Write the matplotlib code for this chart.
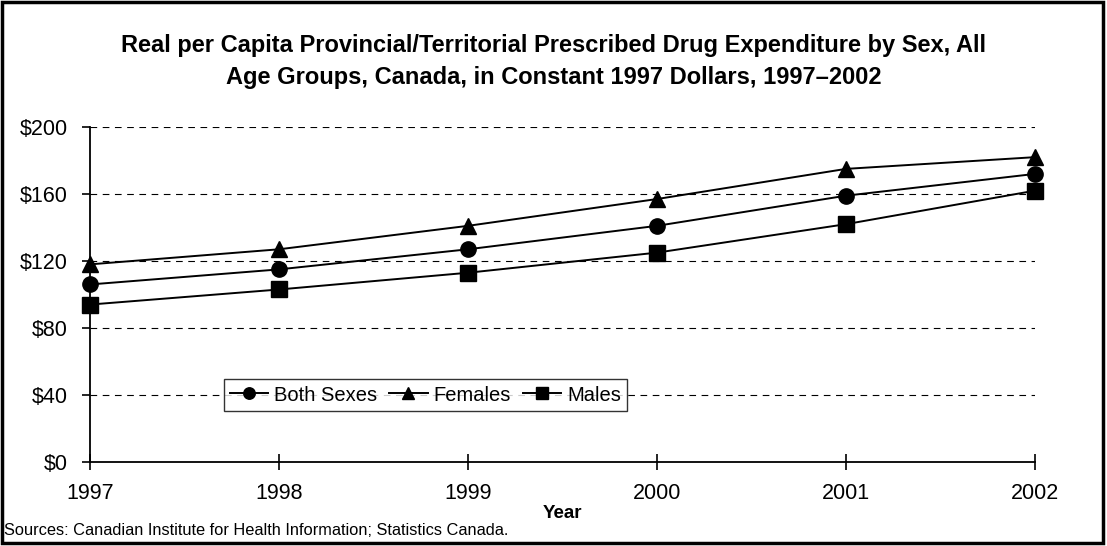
import matplotlib.pyplot as plt
from matplotlib.patches import Rectangle

years = [1997, 1998, 1999, 2000, 2001, 2002]
both_sexes = [106, 115, 127, 141, 159, 172]
females = [118, 127, 141, 157, 175, 182]
males = [94, 103, 113, 125, 142, 162]
y_ticks = [0, 40, 80, 120, 160, 200]

plt.rcParams['font.family'] = ['Liberation Sans', 'DejaVu Sans']

fig = plt.figure(figsize=(11.07, 5.46), dpi=100)
ax = fig.add_axes([0.0813, 0.1538, 0.8537, 0.6136])

ax.plot(years, both_sexes, color='black', lw=1.4, marker='o', ms=11, label='Both Sexes', clip_on=False, zorder=3)
ax.plot(years, females, color='black', lw=1.4, marker='^', ms=12, label='Females', clip_on=False, zorder=3)
ax.plot(years, males, color='black', lw=1.4, marker='s', ms=11, label='Males', clip_on=False, zorder=3)

ax.set_xlim(1997, 2002)
ax.set_ylim(0, 200)
ax.set_xticks(years)
ax.set_yticks(y_ticks)
ax.set_yticklabels([f'${v}' for v in y_ticks])
for v in y_ticks[1:]:
    ax.axhline(v, color='black', lw=0.8, ls=(0, (6, 5)), zorder=1)

for s in ['top', 'right']:
    ax.spines[s].set_visible(False)
ax.spines['left'].set_linewidth(1.3)
ax.spines['bottom'].set_linewidth(1.3)
ax.tick_params(axis='x', direction='inout', length=12, width=1.2, labelsize=15.5, pad=9)
ax.tick_params(axis='y', direction='out', length=6, width=1.2, labelsize=15.5, pad=10)

ax.set_xlabel('Year', fontsize=13.5, fontweight='bold', labelpad=1)

leg = ax.legend(loc='center', bbox_to_anchor=(0.355, 0.2), ncol=3, frameon=True, fancybox=False,
                edgecolor='black', fontsize=14.5, handlelength=1.9, handletextpad=0.3,
                columnspacing=0.6, borderpad=0.3, markerscale=0.75)
leg.get_frame().set_linewidth(1.0)

fig.text(0.5, 0.888, 'Real per Capita Provincial/Territorial Prescribed Drug Expenditure by Sex, All\n'
         'Age Groups, Canada, in Constant 1997 Dollars, 1997\u20132002',
         ha='center', va='center', fontsize=17, fontweight='bold', linespacing=1.5,
         family=['Liberation Sans Narrow', 'Liberation Sans', 'DejaVu Sans'])

fig.text(0.004, 0.028, 'Sources: Canadian Institute for Health Information; Statistics Canada.',
         ha='left', va='center', fontsize=11.8)

fig.patches.append(Rectangle((0.002, 0.006), 0.994, 0.99, transform=fig.transFigure,
                             fill=False, edgecolor='black', lw=2.5))

fig.savefig('out.png', dpi=100)
